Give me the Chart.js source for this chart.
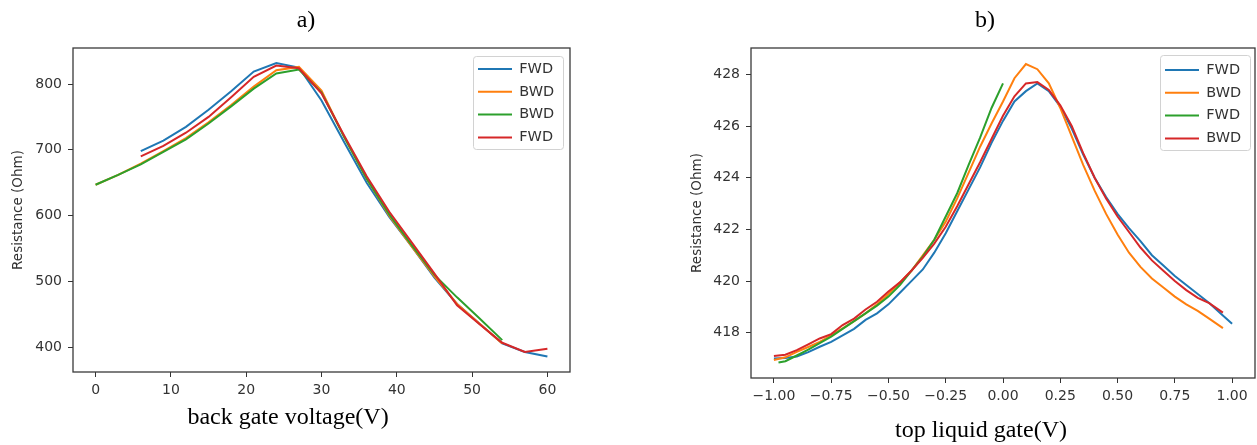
<!DOCTYPE html>
<html><head><meta charset="utf-8">
<script src="https://cdn.jsdelivr.net/npm/chart.js@4.4.0/dist/chart.umd.min.js"></script>
<style>
html,body{margin:0;padding:0;background:#fff}
body{width:1257px;height:445px;overflow:hidden;position:relative}
canvas{position:absolute;top:0}
#ca{left:0}
#cb{left:630px}
.t{position:absolute;font-family:'Liberation Serif','Times New Roman',serif;font-size:24px;color:#000;white-space:nowrap;line-height:1;transform:translateX(-50%)}
</style></head><body>
<canvas id="ca" width="600" height="445"></canvas>
<canvas id="cb" width="627" height="445"></canvas>
<div class="t" style="left:306px;top:7px">a)</div>
<div class="t" style="left:985px;top:7px">b)</div>
<div class="t" style="left:288px;top:404px">back gate voltage(V)</div>
<div class="t" style="left:981px;top:417px">top liquid gate(V)</div>
<script>
// ---------- chart a) : back gate ----------
const A_X_FWD1 = [6,9,12,15,18,21,24,27,30,33,36,39,42,45,48,51,54,57,60];
const A_FWD1   = [698,714,735,761,789,819,832,825,775,712,650,598,553,506,466,436,406,393,386];
const A_X_BWD1 = [0,3,6,9,12,15,18,21,24,27,30,33,36,39,42,45,48,51,54];
const A_BWD1   = [647,662,679,698,718,742,768,796,821,826,790,720,656,600,553,508,466,436,406];
const A_X_BWD2 = [0,3,6,9,12,15,18,21,24,27,30,33,36,39,42,45,48,51,54];
const A_BWD2   = [647,662,678,697,716,740,766,793,816,822,787,720,656,602,555,510,476,444,411];
const A_X_FWD2 = [6,9,12,15,18,21,24,27,30,33,36,39,42,45,48,51,54,57,60];
const A_FWD2   = [690,706,726,750,780,811,828,824,786,722,660,606,559,512,464,435,407,393,398];
const A_XTICKS = [0,10,20,30,40,50,60];
const A_YTICKS = [400,500,600,700,800];
const A_LABELS = ['FWD','BWD','BWD','FWD'];

// ---------- chart b) : top liquid gate ----------
const B_X_FWD1 = [-1.00,-0.95,-0.90,-0.85,-0.80,-0.75,-0.70,-0.65,-0.60,-0.55,-0.50,-0.45,-0.40,-0.35,-0.30,-0.25,-0.20,-0.15,-0.10,-0.05,0.00,0.05,0.10,0.15,0.20,0.25,0.30,0.35,0.40,0.45,0.50,0.55,0.60,0.65,0.70,0.75,0.80,0.85,0.90,0.95,1.00];
const B_FWD1   = [417.00,417.02,417.08,417.25,417.46,417.65,417.90,418.15,418.50,418.75,419.10,419.55,420.00,420.45,421.10,421.85,422.70,423.55,424.40,425.35,426.20,426.95,427.35,427.65,427.35,426.75,425.90,424.90,424.00,423.25,422.60,422.05,421.55,421.00,420.60,420.20,419.85,419.50,419.15,418.75,418.35];
const B_X_BWD1 = [-1.00,-0.95,-0.90,-0.85,-0.80,-0.75,-0.70,-0.65,-0.60,-0.55,-0.50,-0.45,-0.40,-0.35,-0.30,-0.25,-0.20,-0.15,-0.10,-0.05,0.00,0.05,0.10,0.15,0.20,0.25,0.30,0.35,0.40,0.45,0.50,0.55,0.60,0.65,0.70,0.75,0.80,0.85,0.90,0.96];
const B_BWD1   = [416.95,417.05,417.26,417.45,417.65,417.90,418.17,418.45,418.75,419.10,419.50,419.95,420.40,421.00,421.60,422.30,423.20,424.20,425.20,426.10,426.95,427.85,428.40,428.20,427.65,426.70,425.60,424.50,423.50,422.60,421.80,421.10,420.55,420.10,419.75,419.40,419.10,418.85,418.55,418.18];
const B_X_FWD2 = [-0.98,-0.95,-0.90,-0.85,-0.80,-0.75,-0.70,-0.65,-0.60,-0.55,-0.50,-0.45,-0.40,-0.35,-0.30,-0.25,-0.20,-0.15,-0.10,-0.05,0.00];
const B_FWD2   = [416.85,416.90,417.12,417.35,417.60,417.85,418.15,418.45,418.75,419.05,419.40,419.85,420.40,420.95,421.60,422.50,423.40,424.50,425.55,426.70,427.65];
const B_X_BWD2 = [-1.00,-0.95,-0.90,-0.85,-0.80,-0.75,-0.70,-0.65,-0.60,-0.55,-0.50,-0.45,-0.40,-0.35,-0.30,-0.25,-0.20,-0.15,-0.10,-0.05,0.00,0.05,0.10,0.15,0.20,0.25,0.30,0.35,0.40,0.45,0.50,0.55,0.60,0.65,0.70,0.75,0.80,0.85,0.90,0.96];
const B_BWD2   = [417.10,417.15,417.33,417.55,417.78,417.95,418.30,418.55,418.90,419.20,419.60,419.95,420.40,420.90,421.45,422.10,422.90,423.75,424.60,425.50,426.40,427.15,427.65,427.70,427.40,426.80,426.00,424.95,424.00,423.20,422.50,421.90,421.30,420.80,420.40,420.00,419.65,419.35,419.15,418.78];
const B_XTICKS = [-1.00,-0.75,-0.50,-0.25,0.00,0.25,0.50,0.75,1.00];
const B_YTICKS = [418,420,422,424,426,428];
const B_LABELS = ['FWD','BWD','FWD','BWD'];

const COLORS = ['#1f77b4','#ff7f0e','#2ca02c','#d62728'];
const FONT = "'DejaVu Sans', Verdana, sans-serif";
const TXT = '#333';

function pts(xs, ys){ return xs.map((x,i)=>({x:x, y:ys[i]})); }

const framePlugin = {
  id:'frame',
  afterLayout(chart){
    const o = chart.options.plugins.frame, ca = chart.chartArea, lg = chart.legend;
    const fx = ca.right - o.mr - o.bw, fy = ca.top + o.mt;
    chart.$lf = {x:fx, y:fy, w:o.bw, h:o.bh};
    if(!lg) return;
    const pad = lg.options.labels.padding, fs = lg.options.labels.font.size;
    lg.left = fx + o.inX - pad;
    lg.top = fy + o.inY - pad - fs/2;
    lg.width = 200; lg.height = 200;
    lg.right = lg.left + 200; lg.bottom = lg.top + 200;
  },
  beforeDraw(chart){
    const f = chart.$lf; if(!f) return;
    const ctx = chart.ctx;
    ctx.save();
    ctx.beginPath();
    if (ctx.roundRect) ctx.roundRect(f.x+0.5, f.y+0.5, f.w, f.h, 3); else ctx.rect(f.x+0.5,f.y+0.5,f.w,f.h);
    ctx.fillStyle = 'rgba(255,255,255,0.8)';
    ctx.fill();
    ctx.strokeStyle = '#d2d2d2';
    ctx.lineWidth = 1;
    ctx.stroke();
    ctx.restore();
  },
  afterDatasetsDraw(chart){
    const ca = chart.chartArea, ctx = chart.ctx;
    ctx.save();
    ctx.strokeStyle = '#3a3a3a';
    ctx.lineWidth = 1.3;
    ctx.strokeRect(ca.left, ca.top, ca.right-ca.left, ca.bottom-ca.top);
    ctx.restore();
  }
};

function makeChart(id, cfg){
  const ds = cfg.series.map((s,i)=>({
    label: cfg.labels[i],
    data: pts(s[0], s[1]),
    borderColor: COLORS[i],
    backgroundColor: COLORS[i],
    borderWidth: 2,
    pointRadius: 0,
    tension: 0,
    order: 4 - i
  }));
  return new Chart(document.getElementById(id), {
    type: 'line',
    data: { datasets: ds },
    plugins: [framePlugin],
    options: {
      responsive: false,
      animation: false,
      events: [],
      layout: { padding: cfg.pad },
      plugins: {
        tooltip: { enabled: false },
        frame: cfg.frame,
        legend: {
          display: true,
          position: 'chartArea',
          align: 'start',
          labels: {
            sort: (a,b) => a.datasetIndex - b.datasetIndex,
            usePointStyle: true,
            pointStyle: 'line',
            pointStyleWidth: 34,
            padding: 8.3,
            color: TXT,
            font: { family: FONT, size: 14.5 }
          }
        }
      },
      scales: {
        x: {
          type: 'linear',
          min: cfg.xmin, max: cfg.xmax,
          afterBuildTicks: s => { s.ticks = cfg.xticks.map(v=>({value:v})); },
          afterFit: s => { s.height = cfg.xh; },
          grid: { display: true, drawOnChartArea: false, drawTicks: true, tickLength: 5, color: '#333', lineWidth: 1 },
          border: { display: false },
          ticks: { color: TXT, font: { family: FONT, size: 14 }, padding: 5, maxRotation: 0, autoSkip: false, callback: cfg.xfmt }
        },
        y: {
          type: 'linear',
          min: cfg.ymin, max: cfg.ymax,
          afterBuildTicks: s => { s.ticks = cfg.yticks.map(v=>({value:v})); },
          afterFit: s => { s.width = cfg.yw; },
          grid: { display: true, drawOnChartArea: false, drawTicks: true, tickLength: 5, color: '#333', lineWidth: 1 },
          border: { display: false },
          title: { display: true, text: 'Resistance (Ohm)', color: TXT, font: { family: FONT, size: 13.5 }, padding: { top: cfg.tpad, bottom: 0 } },
          ticks: { color: TXT, font: { family: FONT, size: 14 }, padding: 6, autoSkip: false, callback: v => String(v) }
        }
      }
    }
  });
}

makeChart('ca', {
  series: [[A_X_FWD1, A_FWD1],[A_X_BWD1, A_BWD1],[A_X_BWD2, A_BWD2],[A_X_FWD2, A_FWD2]],
  labels: A_LABELS,
  xmin: -3, xmax: 63, ymin: 362.6, ymax: 854.7,
  xticks: A_XTICKS, yticks: A_YTICKS,
  xfmt: v => String(v),
  pad: { left: 0, top: 48, right: 30, bottom: 0 },
  yw: 73, xh: 73, tpad: 10,
  frame: { mr: 7, mt: 8, bw: 90, bh: 93, inX: 5, inY: 13 }
});

makeChart('cb', {
  series: [[B_X_FWD1, B_FWD1],[B_X_BWD1, B_BWD1],[B_X_FWD2, B_FWD2],[B_X_BWD2, B_BWD2]],
  labels: B_LABELS,
  xmin: -1.1, xmax: 1.1, ymin: 416.25, ymax: 429.02,
  xticks: B_XTICKS, yticks: B_YTICKS,
  xfmt: v => Number(v).toFixed(2).replace('-', '\u2212'),
  pad: { left: 50, top: 48, right: 2, bottom: 0 },
  yw: 71, xh: 67, tpad: 9,
  frame: { mr: 5, mt: 7, bw: 90, bh: 95, inX: 5, inY: 15 }
});
</script>
</body></html>
